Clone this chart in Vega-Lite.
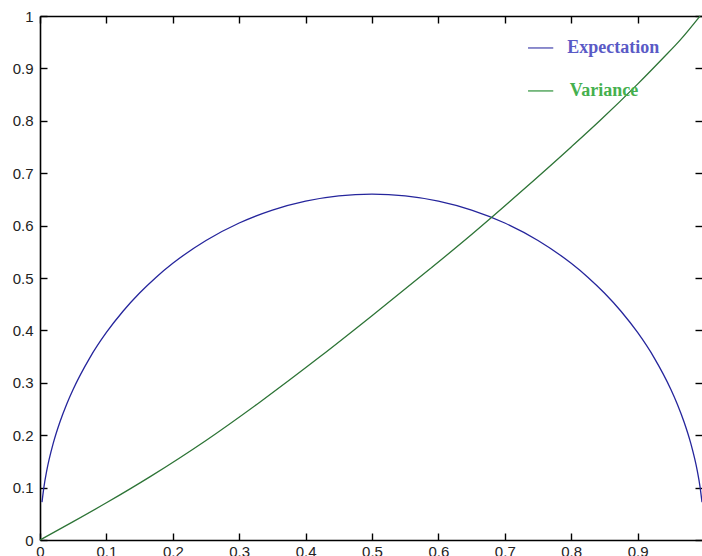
{
  "$schema": "https://vega.github.io/schema/vega-lite/v6.json",
  "width": 662,
  "height": 524,
  "autosize": {"type": "none"},
  "padding": {"left": 40, "top": 16, "right": 0, "bottom": 16},
  "background": "white",
  "config": {
    "view": {"stroke": null},
    "axis": {
      "grid": false,
      "domainColor": "#000000",
      "domainWidth": 1.6,
      "tickColor": "#000000",
      "tickWidth": 1.4,
      "tickSize": -7,
      "labelFont": "Liberation Sans",
      "labelFontSize": 15,
      "labelColor": "#222222",
      "title": null
    }
  },
  "datasets": {
    "curves": [
      {"x": 0.003, "y": 0.0722, "series": "Expectation"},
      {"x": 0.006, "y": 0.1019, "series": "Expectation"},
      {"x": 0.01, "y": 0.1313, "series": "Expectation"},
      {"x": 0.02, "y": 0.1848, "series": "Expectation"},
      {"x": 0.03, "y": 0.2252, "series": "Expectation"},
      {"x": 0.04, "y": 0.2587, "series": "Expectation"},
      {"x": 0.05, "y": 0.2877, "series": "Expectation"},
      {"x": 0.075, "y": 0.3477, "series": "Expectation"},
      {"x": 0.1, "y": 0.396, "series": "Expectation"},
      {"x": 0.125, "y": 0.4366, "series": "Expectation"},
      {"x": 0.15, "y": 0.4713, "series": "Expectation"},
      {"x": 0.175, "y": 0.5016, "series": "Expectation"},
      {"x": 0.2, "y": 0.528, "series": "Expectation"},
      {"x": 0.25, "y": 0.5716, "series": "Expectation"},
      {"x": 0.3, "y": 0.6049, "series": "Expectation"},
      {"x": 0.35, "y": 0.6296, "series": "Expectation"},
      {"x": 0.4, "y": 0.6467, "series": "Expectation"},
      {"x": 0.45, "y": 0.6567, "series": "Expectation"},
      {"x": 0.5, "y": 0.66, "series": "Expectation"},
      {"x": 0.55, "y": 0.6567, "series": "Expectation"},
      {"x": 0.6, "y": 0.6467, "series": "Expectation"},
      {"x": 0.65, "y": 0.6296, "series": "Expectation"},
      {"x": 0.7, "y": 0.6049, "series": "Expectation"},
      {"x": 0.75, "y": 0.5716, "series": "Expectation"},
      {"x": 0.8, "y": 0.528, "series": "Expectation"},
      {"x": 0.825, "y": 0.5016, "series": "Expectation"},
      {"x": 0.85, "y": 0.4713, "series": "Expectation"},
      {"x": 0.875, "y": 0.4366, "series": "Expectation"},
      {"x": 0.9, "y": 0.396, "series": "Expectation"},
      {"x": 0.925, "y": 0.3477, "series": "Expectation"},
      {"x": 0.95, "y": 0.2877, "series": "Expectation"},
      {"x": 0.96, "y": 0.2587, "series": "Expectation"},
      {"x": 0.97, "y": 0.2252, "series": "Expectation"},
      {"x": 0.98, "y": 0.1848, "series": "Expectation"},
      {"x": 0.99, "y": 0.1313, "series": "Expectation"},
      {"x": 0.994, "y": 0.1019, "series": "Expectation"},
      {"x": 0.997, "y": 0.0722, "series": "Expectation"},
      {"x": 0.0, "y": 0.0, "series": "Variance"},
      {"x": 0.05, "y": 0.035, "series": "Variance"},
      {"x": 0.1, "y": 0.071, "series": "Variance"},
      {"x": 0.166, "y": 0.121, "series": "Variance"},
      {"x": 0.25, "y": 0.19, "series": "Variance"},
      {"x": 0.331, "y": 0.263, "series": "Variance"},
      {"x": 0.422, "y": 0.35, "series": "Variance"},
      {"x": 0.5, "y": 0.428, "series": "Variance"},
      {"x": 0.587, "y": 0.517, "series": "Variance"},
      {"x": 0.65, "y": 0.583, "series": "Variance"},
      {"x": 0.723, "y": 0.663, "series": "Variance"},
      {"x": 0.8, "y": 0.75, "series": "Variance"},
      {"x": 0.843, "y": 0.8, "series": "Variance"},
      {"x": 0.9, "y": 0.87, "series": "Variance"},
      {"x": 0.937, "y": 0.918, "series": "Variance"},
      {"x": 0.964, "y": 0.954, "series": "Variance"},
      {"x": 0.994, "y": 1.0, "series": "Variance"}
    ],
    "legend": [
      {"series": "Expectation", "x1": 0.735, "x2": 0.773, "y": 0.939, "tx": 0.794},
      {"series": "Variance", "x1": 0.735, "x2": 0.773, "y": 0.857, "tx": 0.798}
    ]
  },
  "resolve": {
    "scale": {"color": "independent"},
    "axis": {"x": "independent", "y": "independent"}
  },
  "layer": [
    {
      "data": {"name": "curves"},
      "mark": {"type": "line", "strokeWidth": 1.3, "interpolate": "monotone"},
      "encoding": {
        "x": {
          "field": "x", "type": "quantitative",
          "scale": {"domain": [0, 0.997], "nice": false, "zero": false},
          "axis": {"orient": "bottom", "values": [0, 0.1, 0.2, 0.3, 0.4, 0.5, 0.6, 0.7, 0.8, 0.9], "format": "~g", "labelPadding": 11, "labelFlush": false}
        },
        "y": {
          "field": "y", "type": "quantitative",
          "scale": {"domain": [0, 1], "nice": false},
          "axis": {"orient": "left", "values": [0, 0.1, 0.2, 0.3, 0.4, 0.5, 0.6, 0.7, 0.8, 0.9, 1], "format": "~g", "labelPadding": 14, "labelFlush": false}
        },
        "color": {
          "field": "series", "type": "nominal",
          "scale": {"domain": ["Expectation", "Variance"], "range": ["#25259c", "#2d7436"]},
          "legend": null
        }
      }
    },
    {
      "data": {"name": "legend"},
      "mark": {"type": "rule", "strokeWidth": 1.3},
      "encoding": {
        "x": {
          "field": "x1", "type": "quantitative",
          "axis": {"orient": "top", "values": [0, 0.1, 0.2, 0.3, 0.4, 0.5, 0.6, 0.7, 0.8, 0.9], "labels": false}
        },
        "x2": {"field": "x2"},
        "y": {
          "field": "y", "type": "quantitative",
          "axis": {"orient": "right", "values": [0, 0.1, 0.2, 0.3, 0.4, 0.5, 0.6, 0.7, 0.8, 0.9, 1], "labels": false, "domain": false}
        },
        "color": {
          "field": "series", "type": "nominal",
          "scale": {"domain": ["Expectation", "Variance"], "range": ["#4f4fb2", "#3c9a48"]},
          "legend": null
        }
      }
    },
    {
      "data": {"name": "legend"},
      "mark": {"type": "text", "align": "left", "baseline": "middle", "font": "Liberation Serif", "fontWeight": "bold", "fontSize": 18},
      "encoding": {
        "x": {"field": "tx", "type": "quantitative", "axis": null},
        "y": {"field": "y", "type": "quantitative", "axis": null},
        "text": {"field": "series"},
        "color": {
          "field": "series", "type": "nominal",
          "scale": {"domain": ["Expectation", "Variance"], "range": ["#5a5ac6", "#45b04e"]},
          "legend": null
        }
      }
    }
  ]
}
